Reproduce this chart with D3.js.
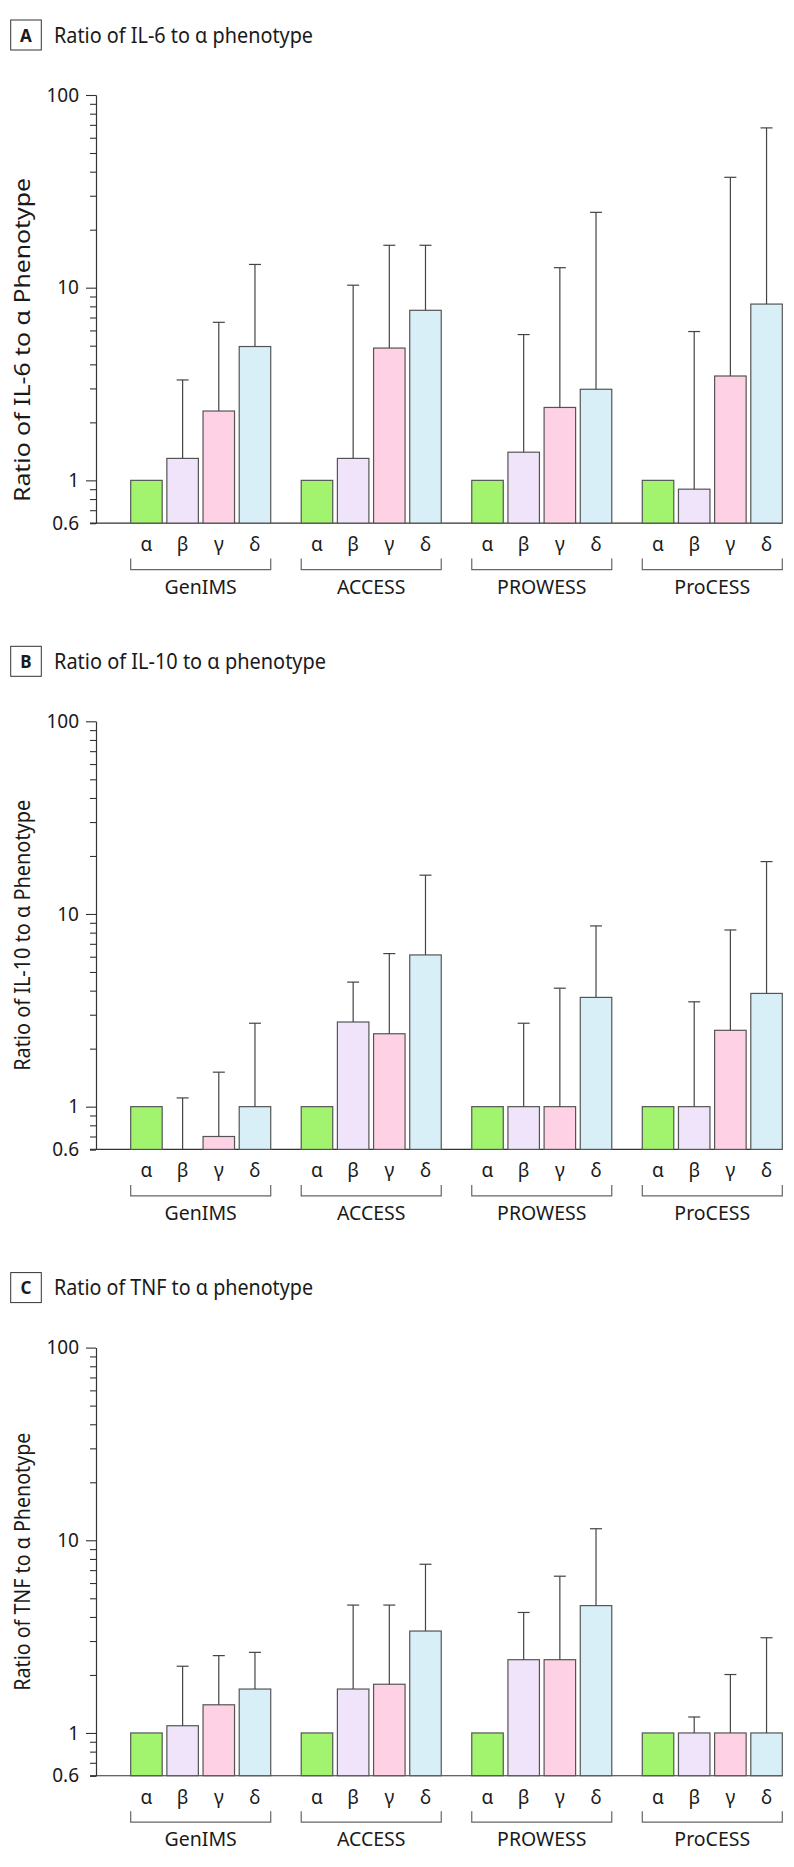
<!DOCTYPE html>
<html>
<head>
<meta charset="utf-8">
<script src="https://cdn.jsdelivr.net/npm/d3@7"></script>
<style>
  html, body { margin: 0; padding: 0; background: #fff; }
  svg { display: block; }
  text { font-family: "Noto Sans", "DejaVu Sans", sans-serif; fill: #1a1a1a; }
</style>
</head>
<body>
<svg id="chart" width="794" height="1867"></svg>
<script>
// ---------- data ----------
const groups = ["GenIMS", "ACCESS", "PROWESS", "ProCESS"];
const phenotypes = ["α", "β", "γ", "δ"];
const panelLetters = ["A", "B", "C"];
const panelTitles = ["Ratio of IL-6 to α phenotype", "Ratio of IL-10 to α phenotype", "Ratio of TNF to α phenotype"];
const yAxisLabels = ["Ratio of IL-6 to α Phenotype", "Ratio of IL-10 to α Phenotype", "Ratio of TNF to α Phenotype"];
const yTickValues = [0.6, 1, 10, 100];
const yTickLabels = ["0.6", "1", "10", "100"];
const yMinorTicks = [0.6, 0.7, 0.8, 0.9, 2, 3, 4, 5, 6, 7, 8, 9, 20, 30, 40, 50, 60, 70, 80, 90];

// ratio values per group (rows) and phenotype (columns α β γ δ)
const il6Ratio  = [[1, 1.30, 2.29, 4.95], [1, 1.30, 4.86, 7.63], [1, 1.40, 2.39, 2.97], [1, 0.90, 3.48, 8.22]];
const il6Upper  = [[null, 3.32, 6.61, 13.2], [null, 10.3, 16.6, 16.6], [null, 5.71, 12.7, 24.6], [null, 5.92, 37.4, 67.5]];
const il10Ratio = [[1, 0.55, 0.70, 1], [1, 2.75, 2.39, 6.13], [1, 1, 1, 3.69], [1, 1, 2.49, 3.87]];
const il10Upper = [[null, 1.11, 1.51, 2.71], [null, 4.43, 6.23, 15.9], [null, 2.71, 4.12, 8.67], [null, 3.50, 8.26, 18.7]];
const tnfRatio  = [[1, 1.09, 1.40, 1.69], [1, 1.69, 1.79, 3.38], [1, 2.40, 2.40, 4.58], [1, 1, 1, 1]];
const tnfUpper  = [[null, 2.22, 2.52, 2.62], [null, 4.61, 4.61, 7.51], [null, 4.22, 6.51, 11.48], [null, 1.21, 2.01, 3.12]];

const panelRatios = [il6Ratio, il10Ratio, tnfRatio];
const panelUppers = [il6Upper, il10Upper, tnfUpper];

// ---------- styles / layout ----------
const colors = { "α": "#a2f46e", "β": "#efe4fa", "γ": "#fed2e4", "δ": "#d9eff8" };
const strokeCol = "#555";
const panelStep = 626.3;
const axisX = 96;
const titleLens = [259, 272, 259];
const yLabelLens = [324, 271, 258];
const yLabelShift = [31, 0, 0];

const svg = d3.select("#chart");

const xGroup = d3.scaleBand()
  .domain(groups)
  .range([115.45, 797.55])
  .paddingInner(0.1789)
  .paddingOuter(0.0894);

const xPheno = d3.scaleBand()
  .domain(phenotypes)
  .range([0, xGroup.bandwidth()])
  .paddingInner(0.129)
  .paddingOuter(0);

panelLetters.forEach((letter, p) => {
  const off = p * panelStep;
  const g = svg.append("g").attr("transform", `translate(0,${off})`);

  const y = d3.scaleLog().domain([0.6, 100]).range([523.1, 95]).clamp(true);
  const base = y(0.6);

  // ---- header ----
  g.append("rect")
    .attr("x", 10.7).attr("y", 20).attr("width", 30.6).attr("height", 30)
    .attr("fill", "none").attr("stroke", "#333").attr("stroke-width", 1);
  g.append("text")
    .attr("x", 26).attr("y", 41.6)
    .attr("text-anchor", "middle")
    .style("font-weight", "bold").style("font-size", "17px")
    .text(letter);
  g.append("text")
    .attr("x", 54).attr("y", 42.5)
    .style("font-size", "21px")
    .attr("textLength", titleLens[p]).attr("lengthAdjust", "spacingAndGlyphs")
    .text(panelTitles[p]);

  // ---- y axis ----
  const minorAxis = d3.axisLeft(y).tickValues(yMinorTicks).tickSize(6).tickSizeOuter(0).tickFormat("");
  const ga = g.append("g").attr("transform", `translate(${axisX},0)`).call(minorAxis);
  const majorAxis = d3.axisLeft(y).tickValues(yTickValues).tickSize(10).tickSizeOuter(0).tickPadding(7)
    .tickFormat((d, i) => yTickLabels[i]);
  const gm = g.append("g").attr("transform", `translate(${axisX},0)`).call(majorAxis);
  gm.selectAll(".tick").filter(d => d === 0.6).select("line").attr("x2", -6);
  [ga, gm].forEach(sel => {
    sel.select(".domain").attr("stroke", "#333").attr("stroke-width", 1.1);
    sel.selectAll(".tick line").attr("stroke", "#333").attr("stroke-width", 1.1);
    sel.selectAll(".tick text")
      .style("font-family", "'Noto Sans', sans-serif")
      .style("font-size", "19px").attr("fill", "#1a1a1a");
  });

  // y axis title
  const lblCenter = (y(100) + base) / 2 + yLabelShift[p];
  g.append("text")
    .attr("transform", `translate(30,${lblCenter}) rotate(-90)`)
    .attr("text-anchor", "middle")
    .style("font-size", "21px")
    .attr("textLength", yLabelLens[p]).attr("lengthAdjust", "spacingAndGlyphs")
    .text(yAxisLabels[p]);

  // ---- baseline ----
  const lastX = xGroup(groups[groups.length - 1]) + xGroup.bandwidth();
  g.append("line")
    .attr("x1", axisX - 6).attr("x2", lastX)
    .attr("y1", base).attr("y2", base)
    .attr("stroke", "#333").attr("stroke-width", 1.1);

  // ---- bars ----
  const ratios = panelRatios[p];
  const uppers = panelUppers[p];
  groups.forEach((grp, gi) => {
    const gx = xGroup(grp);
    const gg = g.append("g").attr("transform", `translate(${gx},0)`);
    phenotypes.forEach((ph, pi) => {
      const v = ratios[gi][pi];
      const x0 = xPheno(ph);
      const top = y(v);
      if (base - top > 0.5) {
        gg.append("rect")
          .attr("x", x0).attr("y", top)
          .attr("width", xPheno.bandwidth()).attr("height", base - top)
          .attr("fill", colors[ph]).attr("stroke", strokeCol).attr("stroke-width", 1.2);
      }
      const u = uppers[gi][pi];
      if (u != null) {
        const cx = x0 + xPheno.bandwidth() / 2;
        gg.append("line")
          .attr("x1", cx).attr("x2", cx).attr("y1", top).attr("y2", y(u))
          .attr("stroke", "#444").attr("stroke-width", 1.2);
        gg.append("line")
          .attr("x1", cx - 6).attr("x2", cx + 6).attr("y1", y(u)).attr("y2", y(u))
          .attr("stroke", "#444").attr("stroke-width", 1.2);
      }
      // phenotype label
      gg.append("text")
        .attr("x", x0 + xPheno.bandwidth() / 2).attr("y", base + 28)
        .attr("text-anchor", "middle")
        .style("font-size", "19px")
        .text(ph);
    });
    // bracket
    const bw = xGroup.bandwidth();
    gg.append("path")
      .attr("d", `M0,${base + 35.5}V${base + 46.5}H${bw}V${base + 35.5}`)
      .attr("fill", "none").attr("stroke", "#666").attr("stroke-width", 1.2);
    gg.append("text")
      .attr("x", bw / 2).attr("y", base + 70.5)
      .attr("text-anchor", "middle")
      .style("font-size", "19.5px")
      .text(grp);
  });
});
</script>
</body>
</html>
